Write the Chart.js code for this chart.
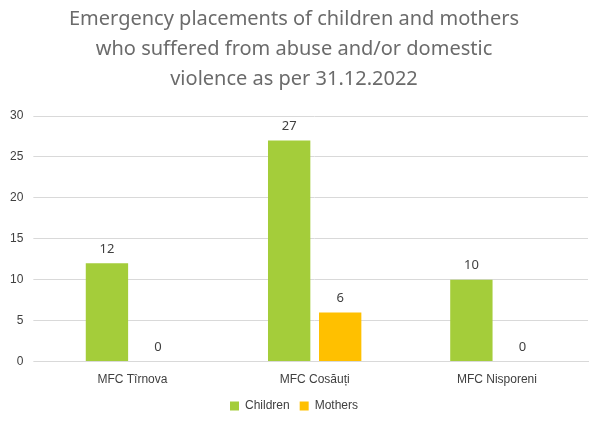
<!DOCTYPE html>
<html><head><meta charset="utf-8">
<script src="https://cdn.jsdelivr.net/npm/chart.js@4/dist/chart.umd.min.js"></script>
<style>html,body{margin:0;background:#fff}#wrap{width:600px;height:428px}</style>
</head><body><div id="wrap"><canvas id="c"></canvas></div>
<script>
const categories = ['MFC Tîrnova', 'MFC Cosăuți', 'MFC Nisporeni'];
const children = [12, 27, 10];
const mothers = [0, 6, 0];
const yTicks = [0, 5, 10, 15, 20, 25, 30];

// draws the value above every bar, zeros included
const valueLabels = {
  id: 'valueLabels',
  afterDatasetsDraw(chart) {
    const c = chart.ctx;
    c.save();
    c.font = '13px "Noto Sans", sans-serif';
    c.fillStyle = '#404040';
    c.textAlign = 'center';
    c.textBaseline = 'bottom';
    chart.data.datasets.forEach((ds, i) => {
      chart.getDatasetMeta(i).data.forEach((bar, j) => {
        c.fillText(ds.data[j], bar.x, bar.y - 8);
      });
    });
    c.restore();
  }
};

new Chart(document.getElementById('c'), {
  type: 'bar',
  data: {
    labels: categories,
    datasets: [
      { label: 'Children', data: children, backgroundColor: '#a4cd3a' },
      { label: 'Mothers', data: mothers, backgroundColor: '#ffc000' }
    ]
  },
  options: {
    responsive: true, maintainAspectRatio: false, animation: false,
    layout: { padding: { left: 0, right: 12, bottom: 6 } },
    datasets: { bar: { categoryPercentage: 0.56, barPercentage: 0.83 } },
    plugins: {
      title: {
        display: true,
        text: ['Emergency placements of children and mothers', 'who suffered from abuse and/or domestic', 'violence as per 31.12.2022'],
        color: '#6b6b6b',
        font: { family: '"Noto Sans", sans-serif', size: 20, weight: 'normal', lineHeight: 1.5 },
        padding: { top: 4, bottom: 22 }
      },
      legend: {
        position: 'bottom',
        labels: { color: '#404040', boxWidth: 9, boxHeight: 9, font: { size: 12 } }
      },
      tooltip: { enabled: false }
    },
    scales: {
      x: {
        grid: { display: false },
        border: { color: '#d9d9d9' },
        ticks: { color: '#404040', font: { size: 12 } }
      },
      y: {
        min: 0, max: 30,
        afterBuildTicks(axis) { axis.ticks = yTicks.map(v => ({ value: v })); },
        grid: { color: '#d9d9d9' },
        border: { display: false },
        ticks: { color: '#404040', font: { size: 12 }, padding: 10 }
      }
    }
  },
  plugins: [valueLabels]
});
</script></body></html>
